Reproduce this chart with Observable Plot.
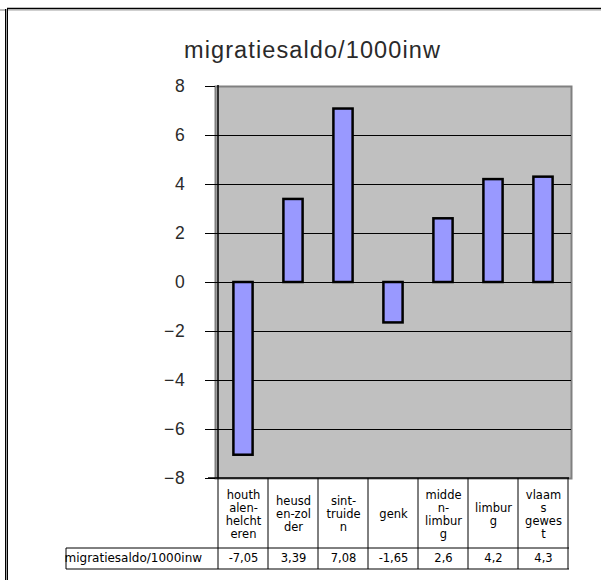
<!DOCTYPE html>
<html>
<head>
<meta charset="utf-8">
<script src="https://cdn.jsdelivr.net/npm/d3@7"></script>
<script src="https://cdn.jsdelivr.net/npm/@observablehq/plot@0.6"></script>
<style>
  html, body { margin: 0; padding: 0; background: white; }
  #chart svg { display: block; }
</style>
</head>
<body>
<div id="chart"></div>
<script>
// ---- data ----
const title = "migratiesaldo/1000inw";
const seriesName = "migratiesaldo/1000inw";
const categories = ["houthalen-helchteren", "heusden-zolder", "sint-truiden", "genk", "midden-limburg", "limburg", "vlaams gewest"];
const headerLabels = ["houth\nalen-\nhelcht\neren", "heusd\nen-zol\nder", "sint-\ntruide\nn", "genk", "midde\nn-\nlimbur\ng", "limbur\ng", "vlaam\ns\ngewes\nt"];
const values = [-7.05, 3.39, 7.08, -1.65, 2.6, 4.2, 4.3];
const valueLabels = ["-7,05", "3,39", "7,08", "-1,65", "2,6", "4,2", "4,3"];
const yTicks = [-8, -6, -4, -2, 0, 2, 4, 6, 8];

const rows = categories.map((c, i) => ({cat: c, value: values[i], header: headerLabels[i], label: valueLabels[i]}));

const tableFont = "DejaVu Sans, Verdana, sans-serif";

const plot = Plot.plot({
  width: 601,
  height: 580,
  marginTop: 86,
  marginBottom: 102,
  marginLeft: 215,
  marginRight: 30,
  style: {background: "white", color: "black", fontFamily: "Liberation Sans, Arial, sans-serif", overflow: "visible"},
  x: {domain: categories, padding: 0, axis: null},
  y: {domain: [-8, 8], axis: null},
  marks: [
    Plot.frame({fill: "#c0c0c0", stroke: "#808080", strokeWidth: 2}),
    Plot.ruleY(yTicks.filter(t => t > -8 && t < 8), {stroke: "black", strokeWidth: 1}),
    Plot.barY(rows, {x: "cat", y: "value", fill: "#9999ff", stroke: "black", strokeWidth: 2.5, insetLeft: 15.4, insetRight: 15.4}),
    Plot.axisY({ticks: yTicks, label: null, tickSize: 10, tickPadding: 20, fontSize: 17.5, fill: "#2a2a2a", stroke: "black"}),
    Plot.text([title], {frameAnchor: "top", dx: -81, dy: -29, lineAnchor: "bottom", fontSize: 23.5, fill: "#2a2a2a", fontFamily: "Liberation Sans, Arial, sans-serif"}),
    Plot.text(rows, {x: "cat", text: "header", frameAnchor: "bottom", dy: 35.5, lineAnchor: "middle", lineHeight: 1.13, fontSize: 11.5, fill: "black", fontFamily: tableFont}),
    Plot.text(rows, {x: "cat", text: "label", frameAnchor: "bottom", dy: 80, lineAnchor: "middle", fontSize: 11.5, fill: "black", fontFamily: tableFont}),
    Plot.text([seriesName], {frameAnchor: "bottom-left", dx: -151, dy: 80, textAnchor: "start", lineAnchor: "middle", fontSize: 12, fill: "black", fontFamily: tableFont})
  ]
});

document.getElementById("chart").appendChild(plot);

const svg = d3.select(plot);

// spacing for the title and tick labels (Excel-like wide rendering)
svg.selectAll("g[font-size='23.5'] text").style("letter-spacing", "1.1px");
svg.selectAll("g[font-size='17.5'] text").style("letter-spacing", "0.8px");

// ---- table grid, axis line and outer frame, positioned from Plot's scales ----
const xs = plot.scale("x");
const ys = plot.scale("y");
const bw = xs.bandwidth;
const xLeft = xs.apply(categories[0]);
const xRight = xs.apply(categories[categories.length - 1]) + bw;
const yTop = ys.apply(8);
const yBottom = ys.apply(-8);
const headerBottom = yBottom + 70;
const rowBottom = yBottom + 91;
const labelLeft = xLeft - 152;

const g = svg.append("g").attr("fill", "none");
const line = (x1, y1, x2, y2, stroke, w) =>
  g.append("line").attr("x1", x1).attr("y1", y1).attr("x2", x2).attr("y2", y2)
   .attr("stroke", stroke).attr("stroke-width", w);

// left axis line and bottom of plot area
line(xLeft, yTop - 1, xLeft, yBottom, "black", 1.5);
line(xLeft - 10, yBottom, xRight + 1, yBottom, "black", 1.5);
// table horizontal lines
line(labelLeft, headerBottom, xRight + 1, headerBottom, "black", 1);
line(labelLeft, rowBottom, xRight + 1, rowBottom, "black", 1);
line(labelLeft, headerBottom, labelLeft, rowBottom, "black", 1);
// table vertical lines
const bounds = categories.map(c => xs.apply(c)).concat([xRight]);
bounds.forEach(b => line(b, yBottom, b, rowBottom, "black", 1));

// outer frame
line(7, 8.5, 601, 8.5, "black", 1.5);
line(7, 10, 601, 10, "#a0a0a0", 1);
line(0, 10, 5, 10, "#808080", 1);
line(5.5, 9, 5.5, 580, "black", 1);
line(6.5, 9, 6.5, 580, "#a0a0a0", 1);
line(7.5, 8, 7.5, 580, "black", 1);
</script>
</body>
</html>
